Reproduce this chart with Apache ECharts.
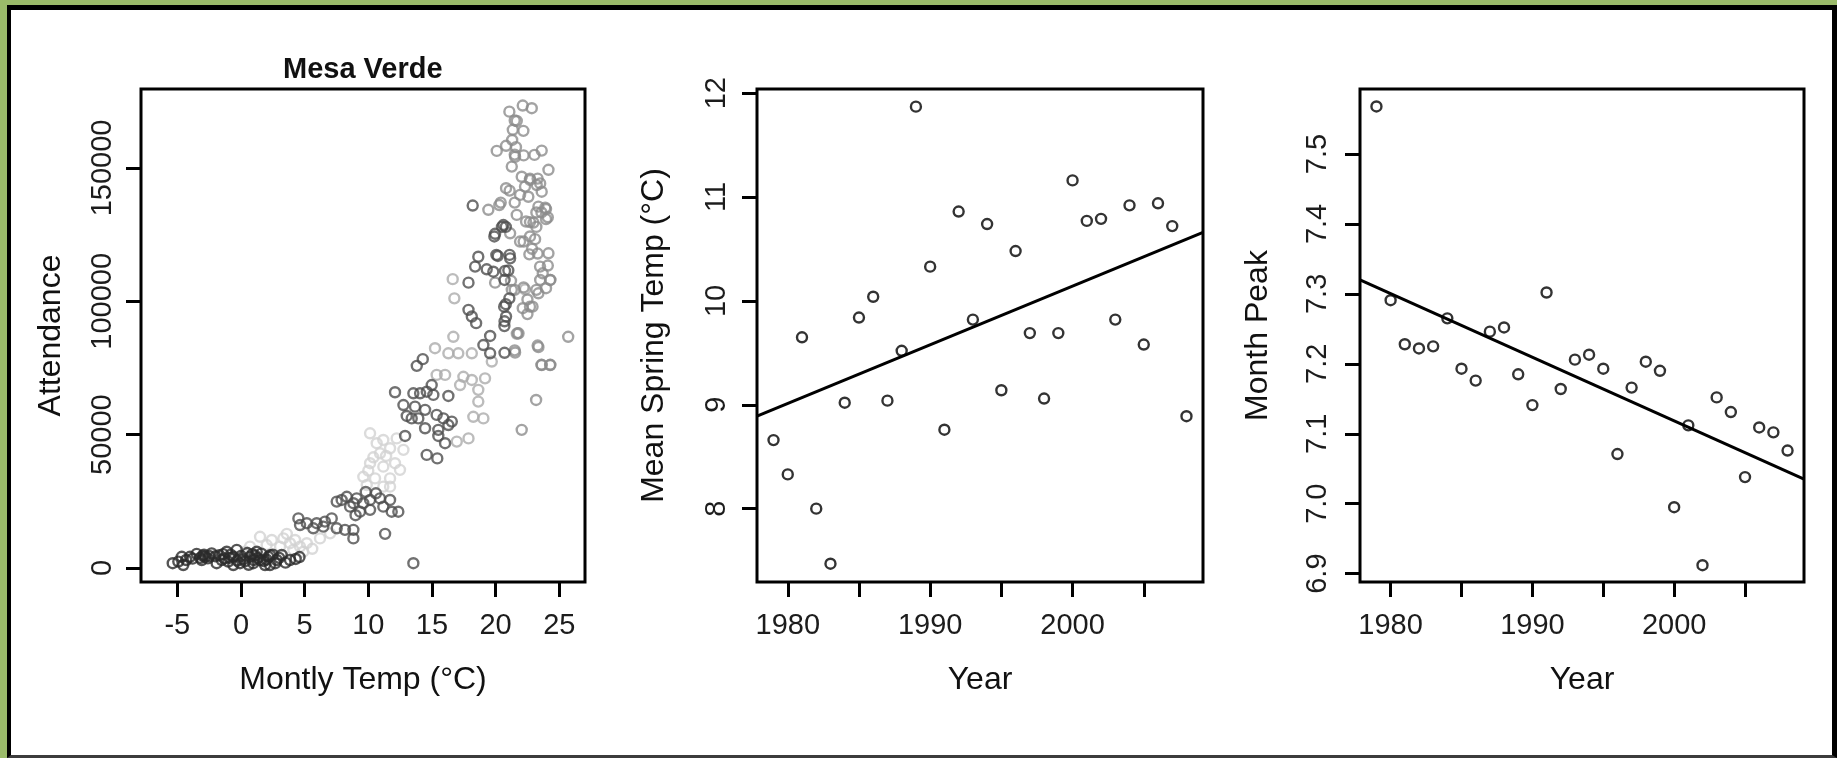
<!DOCTYPE html>
<html>
<head>
<meta charset="utf-8">
<script src="https://cdn.jsdelivr.net/npm/echarts@6/dist/echarts.min.js"></script>
<style>
  html, body { margin: 0; padding: 0; width: 1837px; height: 758px; overflow: hidden; background: #9bbb6a; }
  #frame {
    position: absolute; left: 7px; top: 5px; width: 1830px; height: 753px; box-sizing: border-box;
    border-left: 4px solid #000; border-top: 5px solid #000; border-right: 5px solid #000;
    border-bottom: 3px solid #3c3c3c; background: #fff;
  }
  #chart { position: absolute; left: 0; top: 0; width: 1837px; height: 758px; }
</style>
</head>
<body>
<div id="frame"></div>
<div id="chart"></div>
<script>
// ---- panel 1: Mesa Verde monthly attendance vs temperature, [temp, attendance]
const winterPts = [
  [-5.36, 1800], [-4.65, 4200], [-4.0, 4200], [-4.53, 1100], [-3.48, 5300], [-2.82, 4200],
  [-2.3, 5500], [-1.51, 3000], [-1.12, 6100], [-0.6, 4200], [-0.07, 1800], [-0.33, 6800],
  [0.71, 4200], [1.5, 3000], [2.15, 4200], [2.28, 1100], [2.81, 3000], [3.2, 4900],
  [3.85, 3000], [-0.6, 1100], [-1.91, 1800], [-3.08, 3000], [1.24, 6100], [1.89, 1100],
  [0.97, 1800], [-4.92, 2400], [-3.0, 4600], [-2.6, 3600], [-1.4, 5200], [-0.9, 3800],
  [0.2, 3300], [0.5, 5600], [1.1, 4700], [1.8, 2600], [2.5, 5000], [-0.3, 2800],
  [-2.0, 4400], [3.5, 2000], [4.3, 3400], [4.6, 4100],
  [-3.2, 3800], [-2.9, 5000], [-2.5, 4500], [-1.7, 4800], [-1.3, 3600], [-0.8, 5000],
  [0.0, 4500], [0.3, 2500], [0.9, 5200], [1.3, 3800], [1.6, 5400], [2.0, 3200],
  [2.3, 4800], [3.0, 3800], [-3.8, 3500], [-4.3, 3000], [-1.0, 2400], [0.6, 1200],
  [1.0, 3000], [2.7, 1800]
]
const palePts = [
  [1.5, 11700], [2.42, 10500], [3.33, 11100], [3.85, 9300], [4.64, 8000], [5.17, 9300],
  [4.9, 6100], [4.11, 6800], [3.07, 8000], [2.02, 8600], [0.71, 8000], [0.32, 6100],
  [6.21, 11100], [7.0, 13000], [4.25, 10500], [5.6, 7200], [3.6, 12800],
  [10.14, 50500], [10.66, 46800], [11.18, 48000], [11.71, 44900], [12.23, 48600], [10.92, 43000],
  [12.1, 39300], [12.49, 36800], [10.14, 39300], [11.18, 38000], [9.61, 34200], [10.53, 33600],
  [11.71, 33600], [9.88, 31100], [11.18, 30500], [11.71, 30500], [12.76, 44300], [10.4, 41500],
  [11.4, 42000], [10.0, 36500]
]
const darkPts = [
  [4.51, 18600], [5.17, 16800], [5.95, 16800], [6.6, 17400], [7.13, 18600], [6.47, 15500],
  [7.52, 14900], [8.17, 14300], [8.83, 14300], [8.83, 11100], [4.64, 16100], [5.68, 14900],
  [7.52, 24900], [8.31, 26700], [9.09, 26100], [9.61, 24300], [10.14, 25500], [10.92, 26100],
  [11.71, 25500], [8.57, 23000], [9.35, 21100], [10.14, 21800], [11.18, 23000], [11.84, 21100],
  [12.36, 21100], [7.91, 25500], [8.83, 24300], [11.32, 12800], [13.54, 1800], [9.8, 28500],
  [10.6, 28000], [9.0, 19800],
  [12.1, 65900], [12.76, 61100], [13.02, 57000], [12.89, 49500], [13.54, 65500], [14.07, 65500],
  [14.59, 66100], [15.11, 64900], [16.29, 64500], [13.67, 60500], [14.46, 59300], [13.41, 56100],
  [13.93, 56100], [15.37, 57400], [15.9, 56100], [16.56, 54900], [14.46, 52400], [15.5, 51800],
  [16.29, 53600], [15.5, 49500], [16.03, 46800], [14.59, 42400], [15.42, 41100], [14.98, 68600],
  [14.28, 78300], [13.81, 75800],
  [18.2, 135900], [20.61, 128600], [19.96, 125300], [18.64, 116700], [20.17, 117000], [21.14, 116100],
  [18.39, 113000], [17.87, 107000], [21.08, 101100], [17.87, 96800], [18.13, 94300], [18.47, 91800],
  [20.67, 98000], [20.82, 94300], [20.69, 90700], [19.57, 87000], [19.04, 83600], [19.57, 80500],
  [19.3, 112000], [19.82, 111100], [20.74, 111400],
  [20.8, 127900], [20.5, 127900], [19.9, 124300], [20.06, 117400], [21.1, 117400], [21.0, 111600],
  [20.7, 108000], [20.8, 98900], [20.7, 92500], [20.7, 80700]
]
const lightPts = [
  [15.24, 82400], [16.29, 80500], [17.07, 80500], [18.13, 80500], [19.7, 77400], [16.68, 86700],
  [15.37, 72400], [16.03, 72400], [17.47, 71700], [18.13, 70500], [19.17, 71100], [17.21, 68600],
  [18.64, 66800], [18.64, 62400], [18.25, 56700], [19.04, 56100], [17.87, 48600], [16.95, 47400],
  [16.63, 108300], [16.76, 101100], [22.31, 104500], [21.66, 87800]
]
const summerPts = [
  [21.08, 171100], [22.13, 173400], [22.84, 172400], [21.66, 167600], [21.35, 164300], [22.18, 163900],
  [20.09, 156400], [20.82, 158300], [21.6, 157800], [21.53, 154200], [21.27, 150500], [23.05, 154900],
  [23.62, 156500], [24.15, 149300], [20.82, 142400], [22.05, 146700], [22.7, 145500], [22.31, 143000],
  [23.23, 143600], [23.62, 141100], [21.92, 139900], [22.57, 139200], [19.43, 134300], [20.29, 136100],
  [23.36, 135500], [23.96, 134600], [23.96, 130800], [21.66, 132400], [22.39, 129900], [22.97, 129500],
  [21.14, 125500], [21.92, 122400], [23.1, 123300], [22.65, 117600], [24.15, 118000], [23.49, 113000],
  [23.7, 110500], [24.28, 108000], [19.96, 107000], [21.21, 107700], [21.27, 104300], [23.96, 104900],
  [23.36, 103000], [22.13, 97400], [22.7, 98000], [21.71, 88000], [23.36, 82800], [25.7, 86700],
  [21.53, 80800], [23.62, 76100], [24.28, 76100], [23.18, 63000], [22.05, 51800],
  [21.5, 167800], [21.3, 160500], [21.5, 155000], [22.2, 154700], [20.4, 137000], [21.1, 141500],
  [21.5, 137000], [21.5, 104300], [22.7, 129700], [23.2, 127900], [22.7, 124300], [22.2, 122400],
  [22.86, 119700], [23.3, 117900], [23.2, 133300], [23.6, 133300], [23.9, 135100], [24.1, 131500],
  [23.5, 144200], [22.7, 146000], [23.3, 146000], [24.1, 113400], [23.5, 108000], [24.3, 108000],
  [23.2, 104300], [22.2, 105200], [22.5, 100700], [22.9, 98000], [22.5, 95200], [21.8, 88000],
  [21.5, 81600], [23.3, 83400], [23.6, 76200], [24.3, 76200]
]
const tempTicks = [-5, 0, 5, 10, 15, 20, 25]
const attendTicks = [0, 50000, 100000, 150000]

// ---- panels 2 and 3: yearly values
const years = [1979, 1980, 1981, 1982, 1983, 1984, 1985, 1986, 1987, 1988, 1989, 1990, 1991, 1992, 1993,
  1994, 1995, 1996, 1997, 1998, 1999, 2000, 2001, 2002, 2003, 2004, 2005, 2006, 2007, 2008]
const springTemp = [8.66, 8.33, 9.65, 8.00, 7.47, 9.02, 9.84, 10.04, 9.04, 9.52, 11.87, 10.33, 8.76, 10.86, 9.82,
  10.74, 9.14, 10.48, 9.69, 9.06, 9.69, 11.16, 10.77, 10.79, 9.82, 10.92, 9.58, 10.94, 10.72, 8.89]
const monthPeak = [7.568, 7.291, 7.228, 7.222, 7.225, 7.265, 7.193, 7.176, 7.246, 7.252, 7.185, 7.141, 7.302, 7.164, 7.206,
  7.213, 7.193, 7.071, 7.166, 7.203, 7.190, 6.995, 7.112, 6.912, 7.152, 7.131, 7.038, 7.109, 7.102, 7.076]
// fitted lines as drawn, read at the plot edges
const springTrend = [[1977.84, 8.89], [2009.16, 10.66]]
const peakTrend = [[1977.84, 7.320], [2009.16, 7.035]]
const yearTicks = [1980, 1985, 1990, 1995, 2000, 2005]
const yearLabels = [1980, 1990, 2000]
const springTicks = [8, 9, 10, 11, 12]
const peakTicks = [6.9, 7.0, 7.1, 7.2, 7.3, 7.4, 7.5]

const FONT = "'Liberation Sans', Arial, Helvetica, sans-serif"

const makeAxis = (o) => ({
  type: 'value',
  gridIndex: o.grid,
  min: o.min,
  max: o.max,
  name: o.name,
  nameLocation: 'middle',
  nameGap: o.nameGap,
  nameTextStyle: { fontFamily: FONT, fontSize: 32, color: '#111' },
  axisLine: { show: false, onZero: false },
  splitLine: { show: false },
  axisTick: { show: true, length: 15, lineStyle: { color: '#000', width: 3 }, customValues: o.ticks },
  axisLabel: {
    customValues: o.labels || o.ticks,
    margin: o.margin,
    rotate: o.rotate || 0,
    fontFamily: FONT,
    fontSize: 29,
    color: '#1c1c1c',
    formatter: o.fmt || (v => String(v))
  }
})

const ring = (color) => ({ color: 'rgba(0,0,0,0)', borderColor: color, borderWidth: 2.4 })

const scatter = (data, color, x, y) => ({
  type: 'scatter', xAxisIndex: x, yAxisIndex: y, data,
  symbol: 'circle', symbolSize: 10, itemStyle: ring(color), silent: true
})

const yearData = (vals) => years.map((yr, i) => [yr, vals[i]])

const chart = echarts.init(document.getElementById('chart'), null, { renderer: 'canvas' })
chart.setOption({
  animation: false,
  backgroundColor: 'transparent',
  title: {
    text: 'Mesa Verde', left: 283, top: 55, padding: 0,
    textStyle: { fontFamily: FONT, fontSize: 29, fontWeight: 'bold', color: '#111' }
  },
  grid: [
    { left: 141, top: 89, width: 444, height: 493 },
    { left: 757, top: 89, width: 446, height: 493 },
    { left: 1360, top: 89, width: 444, height: 493 }
  ].map(g => ({ ...g, show: true, borderColor: '#000', borderWidth: 3, backgroundColor: 'transparent' })),
  xAxis: [
    makeAxis({ grid: 0, min: -7.85, max: 27.02, ticks: tempTicks, margin: 29, name: 'Montly Temp (°C)', nameGap: 82 }),
    makeAxis({ grid: 1, min: 1977.84, max: 2009.16, ticks: yearTicks, labels: yearLabels, margin: 29, name: 'Year', nameGap: 82 }),
    makeAxis({ grid: 2, min: 1977.84, max: 2009.16, ticks: yearTicks, labels: yearLabels, margin: 29, name: 'Year', nameGap: 82 })
  ],
  yAxis: [
    makeAxis({ grid: 0, min: -5250, max: 179600, ticks: attendTicks, margin: 24, rotate: 90, name: 'Attendance', nameGap: 74 }),
    makeAxis({ grid: 1, min: 7.294, max: 12.04, ticks: springTicks, margin: 26, rotate: 90, name: 'Mean Spring Temp (°C)', nameGap: 87 }),
    makeAxis({ grid: 2, min: 6.888, max: 7.593, ticks: peakTicks, margin: 28, rotate: 90, name: 'Month Peak', nameGap: 86,
      fmt: v => v.toFixed(1) })
  ],
  series: [
    scatter(palePts, '#d2d2d2', 0, 0),
    scatter(lightPts, '#ababab', 0, 0),
    scatter(summerPts, '#8c8c8c', 0, 0),
    scatter(darkPts, '#4d4d4d', 0, 0),
    scatter(winterPts, '#2a2a2a', 0, 0),
    scatter(yearData(springTemp), '#000', 1, 1),
    { type: 'line', xAxisIndex: 1, yAxisIndex: 1, data: springTrend, showSymbol: false, silent: true,
      lineStyle: { color: '#000', width: 3 } },
    scatter(yearData(monthPeak), '#000', 2, 2),
    { type: 'line', xAxisIndex: 2, yAxisIndex: 2, data: peakTrend, showSymbol: false, silent: true,
      lineStyle: { color: '#000', width: 3 } }
  ]
})
</script>
</body>
</html>
